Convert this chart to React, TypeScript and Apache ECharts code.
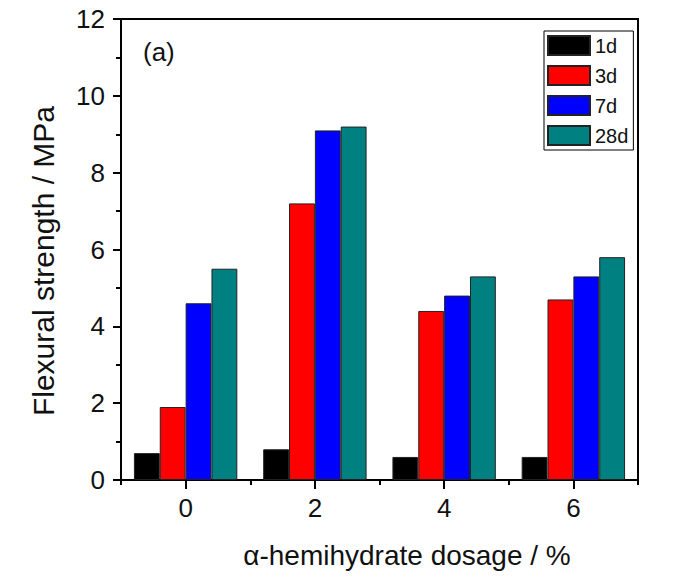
import React, { useEffect, useRef } from "react";
import * as echarts from "echarts";

// α-hemihydrate dosage (%) on the x axis
const dosages = ["0", "2", "4", "6"];
// Curing ages
const ages = ["1d", "3d", "7d", "28d"];
// Flexural strength (MPa) per age, one value per dosage
const strength1d = [0.7, 0.8, 0.6, 0.6];
const strength3d = [1.9, 7.2, 4.4, 4.7];
const strength7d = [4.6, 9.1, 4.8, 5.3];
const strength28d = [5.5, 9.2, 5.3, 5.8];
const ageColors = ["#000000", "#ff0000", "#0000ff", "#008080"];

const FONT = "'Liberation Sans', Arial, sans-serif";

export default function App() {
  const ref = useRef<HTMLDivElement>(null);

  useEffect(() => {
    if (!ref.current) return;
    const chart = echarts.init(ref.current, undefined, { renderer: "svg" });
    const values = [strength1d, strength3d, strength7d, strength28d];

    chart.setOption({
      animation: false,
      backgroundColor: "#ffffff",
      textStyle: { fontFamily: FONT },
      grid: {
        left: 121,
        top: 19,
        width: 517,
        height: 461,
        show: true,
        borderColor: "#000",
        borderWidth: 2,
        backgroundColor: "transparent",
      },
      legend: {
        orient: "vertical",
        left: 544,
        top: 31,
        padding: [4, 5, 4, 3],
        borderColor: "#000",
        borderWidth: 1,
        itemWidth: 42,
        itemHeight: 19,
        itemGap: 9,
        icon: "rect",
        textStyle: { fontSize: 20, color: "#111", fontFamily: FONT },
        data: ages,
      },
      xAxis: [
        {
          type: "category",
          data: dosages,
          position: "bottom",
          axisLine: { show: true, lineStyle: { color: "#000", width: 2 } },
          axisTick: {
            show: true,
            alignWithLabel: true,
            length: 9,
            lineStyle: { color: "#000", width: 2 },
          },
          axisLabel: { fontSize: 26, color: "#111", margin: 15, fontFamily: FONT },
          splitLine: { show: false },
        },
        {
          type: "category",
          data: dosages,
          position: "bottom",
          axisLine: { show: false },
          axisTick: { show: true, length: 5, lineStyle: { color: "#000", width: 2 } },
          axisLabel: { show: false },
          splitLine: { show: false },
        },
      ],
      yAxis: {
        type: "value",
        min: 0,
        max: 12,
        interval: 2,
        axisLine: { show: true, lineStyle: { color: "#000", width: 2 } },
        axisTick: { show: true, length: 8, lineStyle: { color: "#000", width: 2 } },
        minorTick: { show: true, splitNumber: 2, length: 5, lineStyle: { color: "#000", width: 2 } },
        axisLabel: { fontSize: 26, color: "#111", margin: 16, fontFamily: FONT },
        splitLine: { show: false },
      },
      series: ages.map((age, i) => ({
        name: age,
        type: "bar",
        xAxisIndex: 0,
        data: values[i],
        barGap: "0%",
        barCategoryGap: "20%",
        itemStyle: { color: ageColors[i], borderColor: "#222", borderWidth: 1 },
      })),
      graphic: [
        {
          type: "text",
          left: 143,
          top: 39,
          style: { text: "(a)", fontSize: 26, fill: "#111", fontFamily: FONT },
        },
        {
          type: "text",
          x: 43,
          y: 261,
          rotation: Math.PI / 2,
          style: {
            text: "Flexural strength / MPa",
            fontSize: 30,
            fill: "#111",
            fontFamily: FONT,
            align: "center",
            verticalAlign: "middle",
          },
        },
        {
          type: "text",
          x: 407,
          y: 555,
          style: {
            text: "α-hemihydrate dosage / %",
            fontSize: 28,
            fill: "#111",
            fontFamily: FONT,
            align: "center",
            verticalAlign: "middle",
          },
        },
      ],
    });

    return () => chart.dispose();
  }, []);

  return (
    <div
      ref={ref}
      style={{ position: "fixed", left: 0, top: 0, width: 683, height: 577 }}
    />
  );
}
